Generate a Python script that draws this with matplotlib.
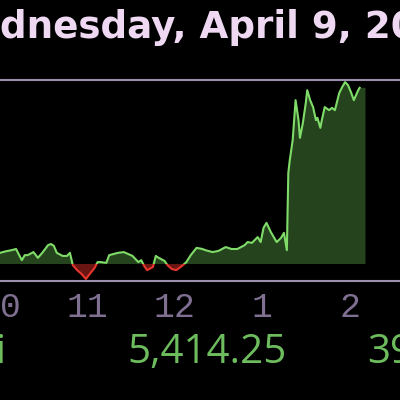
import numpy as np
import matplotlib.pyplot as plt
from matplotlib.patches import Rectangle

# minutes after 10:00, index level
minutes = [0, 4, 8, 11, 15, 17, 19, 23, 26, 29, 33, 35, 37, 39, 43, 46, 48,
           50, 53, 56, 59, 61, 65, 67, 69, 73, 75, 78, 81, 85, 88, 91, 95, 97,
           99, 101, 105, 107, 109, 113, 115, 118, 121, 125, 128, 131, 135, 139,
           141, 146, 150, 155, 159, 163, 168, 170, 173, 177, 179, 181, 183, 186,
           188, 190, 193, 195, 197, 198, 199, 201, 203, 205, 206, 208, 210, 211,
           213, 215, 217, 218, 220, 221, 223, 226, 228, 230, 233, 235, 237, 239,
           241, 243, 246, 247]
level = [5012, 5016, 5019, 5022, 4993, 5006, 5006, 5014, 4999, 5012, 5032, 5035,
         5030, 5012, 5004, 5004, 5012, 4980, 4967, 4957, 4944, 4954, 4973, 4988,
         4988, 4986, 5006, 5009, 5012, 5014, 5009, 5004, 4988, 4993, 4978, 4967,
         4975, 5004, 4999, 4991, 4980, 4970, 4967, 4978, 4988, 5006, 5025, 5022,
         5019, 5014, 5017, 5027, 5022, 5022, 5032, 5040, 5038, 5053, 5040, 5077,
         5090, 5066, 5053, 5040, 5051, 5064, 5019, 5220, 5253, 5305, 5409, 5357,
         5311, 5350, 5402, 5435, 5409, 5391, 5357, 5363, 5337, 5357, 5391, 5383,
         5389, 5383, 5428, 5443, 5456, 5448, 5430, 5409, 5435, 5441]
prev_close = 4983
fill_end = 251

hour_pos = [0, 60, 120, 180, 240]
hour_labels = ["10", "11", "12", "1", "2"]

title = "Wednesday, April 9, 2025"
price_text = "5,414.25"

GREEN = "#7fdc68"
RED = "#e8362e"
LAVENDER = "#9d8fb0"

t = np.array(minutes, dtype=float)
v = np.array(level, dtype=float)

fig = plt.figure(figsize=(4, 4), dpi=100, facecolor="black")
ax = fig.add_axes([0, 0.2975, 1, 0.5025], facecolor="black")

# the shaded area runs a little past the last print
tf = np.append(t, fill_end)
vf = np.append(v, v[-1])
ax.fill_between(tf, vf, prev_close, where=vf >= prev_close, interpolate=True,
                color="#25441e", lw=0)
ax.fill_between(tf, vf, prev_close, where=vf < prev_close, interpolate=True,
                color="#6a1512", lw=0)

up, = ax.plot(t, v, color=GREEN, lw=1.5)
up.set_clip_path(Rectangle((-50, prev_close), 400, 2000, transform=ax.transData))
down, = ax.plot(t, v, color=RED, lw=1.5)
down.set_clip_path(Rectangle((-50, prev_close - 2000), 400, 2000, transform=ax.transData))

ax.set_xlim(8, 274.7)
ax.set_ylim(4938.8, 5461.4)

for side in ["left", "right"]:
    ax.spines[side].set_visible(False)
for side in ["top", "bottom"]:
    ax.spines[side].set_color(LAVENDER)
    ax.spines[side].set_linewidth(1.5)

ax.set_yticks([])
ax.set_xticks(hour_pos)
ax.set_xticklabels(hour_labels, fontfamily="Liberation Mono", fontsize=25,
                   color="#7f6f90")
ax.tick_params(axis="x", length=0, pad=7)

# title, cropped on the left like the photo; size fitted so "9, " ends near x=365
renderer = fig.canvas.get_renderer()
tfont = dict(fontfamily="DejaVu Sans", fontweight="bold")
probe = fig.text(0, 0, "dnesday, April 9, ", fontsize=24, **tfont)
span_w = probe.get_window_extent(renderer).width
probe.remove()
tsize = 24 * 365 / span_w
probe = fig.text(0, 0, "We", fontsize=tsize, **tfont)
we_w = probe.get_window_extent(renderer).width
probe.remove()
fig.text(-we_w / 400, 1 - 28 / 400, title, fontsize=tsize, color="#eed8f2",
         ha="left", va="center", **tfont)

fig.text(207 / 400, 1 - 353 / 400, price_text, fontsize=29, fontfamily="Open Sans",
         color="#6dbd5e", ha="center", va="center")
fig.text(-4 / 400, 1 - 353 / 400, "i", fontsize=29, fontfamily="Open Sans",
         color="#6dbd5e", ha="left", va="center")
fig.text(367 / 400, 1 - 353 / 400, "39", fontsize=29, fontfamily="Open Sans",
         color="#6dbd5e", ha="left", va="center")

fig.savefig("out.png", dpi=100, facecolor="black")
